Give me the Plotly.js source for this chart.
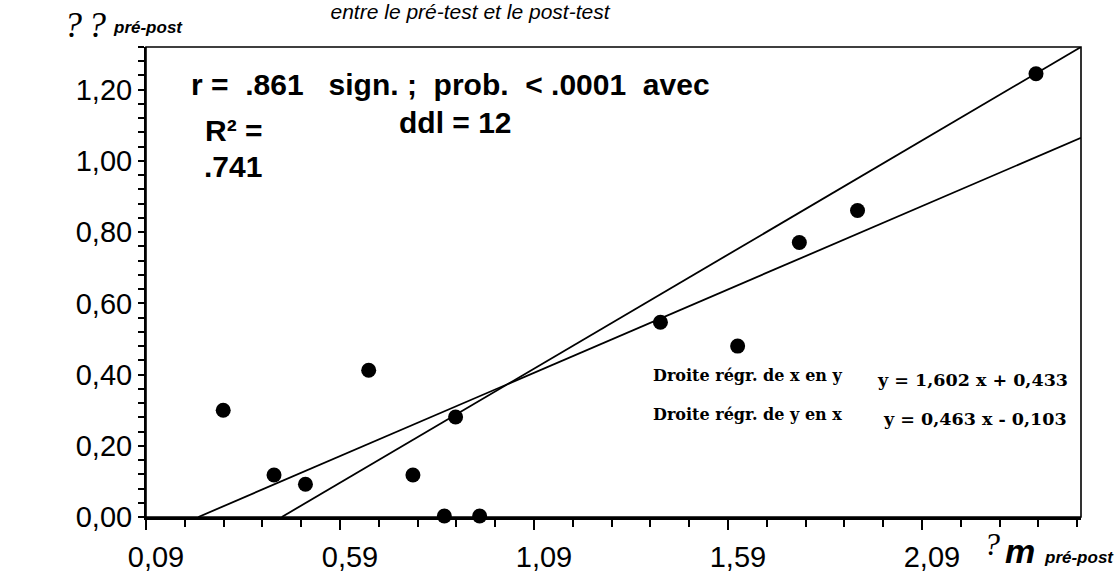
<!DOCTYPE html>
<html>
<head>
<meta charset="utf-8">
<script src="https://cdn.plot.ly/plotly-3.0.1.min.js"></script>
<style>
  html, body { margin: 0; padding: 0; background: #fff; }
  #chart { width: 1118px; height: 577px; }
</style>
</head>
<body>
<div id="chart"></div>
<script>
// ---- data ----
const pointsX = [0.289, 0.420, 0.501, 0.664, 0.778, 0.888, 0.859, 0.950, 1.416, 1.615, 1.774, 1.924, 2.384];
const pointsY = [0.300, 0.118, 0.092, 0.412, 0.118, 0.281, 0.003, 0.003, 0.547, 0.480, 0.771, 0.861, 1.245];

// regression of x on y  (x = 1,602 y + 0,433) — endpoints
const lineXonY_x = [0.44, 2.50];
const lineXonY_y = [0.00, 1.32];
// regression of y on x  (y = 0,463 x - 0,103)
const lineYonX_x = [0.225, 2.50];
const lineYonX_y = [0.00, 1.065];

const xTickVals = [0.09, 0.59, 1.09, 1.59, 2.09];
const xTickText = ["0,09", "0,59", "1,09", "1,59", "2,09"];
const yTickVals = [0, 0.2, 0.4, 0.6, 0.8, 1.0, 1.2];
const yTickText = ["0,00", "0,20", "0,40", "0,60", "0,80", "1,00", "1,20"];

// ---- geometry helpers (pixel -> paper) ----
const L = 146, R = 1081, T = 47, B = 517;
const PW = R - L, PH = B - T;
const px = v => (v - L) / PW;
const py = v => (B - v) / PH;

const SANS = "Liberation Sans, Arial, sans-serif";
const SERIF = "Liberation Serif, Times New Roman, serif";
const DSERIF = "DejaVu Serif, serif";

function ann(text, left, baseline, font) {
  const c = baseline - 0.345 * font.size;
  return {
    text: text, xref: 'paper', yref: 'paper',
    x: px(left), y: py(c), xanchor: 'left', yanchor: 'middle',
    showarrow: false, borderpad: 0,
    font: Object.assign({color: '#000'}, font)
  };
}

const NB = '\u00A0';
const annotations = [
  ann('r =' + NB + NB + '.861' + NB + NB + NB + 'sign.' + NB + ';' + NB + NB + 'prob.' + NB + NB + '<' + NB + '.0001' + NB + NB + 'avec', 190, 95, {family: SANS, size: 30, weight: 'bold'}),
  ann('ddl = 12', 398, 133, {family: SANS, size: 30, weight: 'bold'}),
  ann('R² =', 204, 141, {family: SANS, size: 30, weight: 'bold'}),
  ann('.741', 203, 177, {family: SANS, size: 30, weight: 'bold'}),
  ann('Droite régr. de x en y', 652, 381, {family: DSERIF, size: 16, weight: 'bold'}),
  ann('y = 1,602 x + 0,433', 876, 386, {family: DSERIF, size: 17.5, weight: 'bold'}),
  ann('Droite régr. de y en x', 652, 420, {family: DSERIF, size: 16, weight: 'bold'}),
  ann('y = 0,463 x - 0,103', 882, 425, {family: DSERIF, size: 17.5, weight: 'bold'}),
  ann('?\u2006?', 63, 37, {family: SERIF, size: 36, style: 'italic'}),
  ann('pré-post', 112, 33, {family: SANS, size: 17, weight: 'bold', style: 'italic'}),
  ann('?', 983, 555, {family: SERIF, size: 32, style: 'italic'}),
  ann('m', 1004, 563, {family: SANS, size: 34, weight: 'bold', style: 'italic'}),
  ann('pré-post', 1043, 563, {family: SANS, size: 17, weight: 'bold', style: 'italic'})
];

const traces = [
  {x: lineXonY_x, y: lineXonY_y, mode: 'lines', line: {color: '#000', width: 1.8}, hoverinfo: 'skip', cliponaxis: false},
  {x: lineYonX_x, y: lineYonX_y, mode: 'lines', line: {color: '#000', width: 1.8}, hoverinfo: 'skip', cliponaxis: false},
  {x: pointsX, y: pointsY, mode: 'markers', marker: {color: '#000', size: 15}, cliponaxis: false}
];

const layout = {
  width: 1118, height: 577,
  margin: {l: L, r: 1118 - R, t: T, b: 577 - B, pad: 0},
  paper_bgcolor: '#fff', plot_bgcolor: '#fff',
  showlegend: false,
  title: {
    text: 'entre le pré-test et le post-test',
    xref: 'container', yref: 'container',
    x: 470 / 1118, xanchor: 'center',
    y: 1 - 12 / 577, yanchor: 'middle',
    font: {family: SANS, size: 21, style: 'italic', color: '#000'}
  },
  xaxis: {
    range: [0.09, 2.5], showgrid: false, zeroline: false,
    showline: true, linecolor: '#000', linewidth: 3,
    tickmode: 'array', tickvals: xTickVals, ticktext: xTickText,
    ticks: 'outside', ticklen: 10, tickwidth: 2, tickcolor: '#000',
    ticklabelshift: 10, ticklabelstandoff: 2,
    tickfont: {family: SANS, size: 29, color: '#000'},
    minor: {tickmode: 'linear', tick0: 0.09, dtick: 0.1, ticks: 'outside', ticklen: 7, tickwidth: 2, tickcolor: '#000', showgrid: false}
  },
  yaxis: {
    range: [0, 1.32], showgrid: false, zeroline: false,
    showline: true, linecolor: '#000', linewidth: 2,
    tickmode: 'array', tickvals: yTickVals, ticktext: yTickText,
    ticks: 'outside', ticklen: 6, tickwidth: 2, tickcolor: '#000',
    ticklabelstandoff: 0,
    tickfont: {family: SANS, size: 29, color: '#000'},
    minor: {tickmode: 'linear', tick0: 0, dtick: 0.04, ticks: 'outside', ticklen: 6, tickwidth: 2, tickcolor: '#000', showgrid: false}
  },
  shapes: [
    {type: 'rect', xref: 'paper', yref: 'paper', x0: 0, x1: 1, y0: 0, y1: 1, line: {color: '#000', width: 1.6}, layer: 'below'}
  ],
  annotations: annotations
};

Plotly.newPlot('chart', traces, layout, {displayModeBar: false, staticPlot: true});
</script>
</body>
</html>
